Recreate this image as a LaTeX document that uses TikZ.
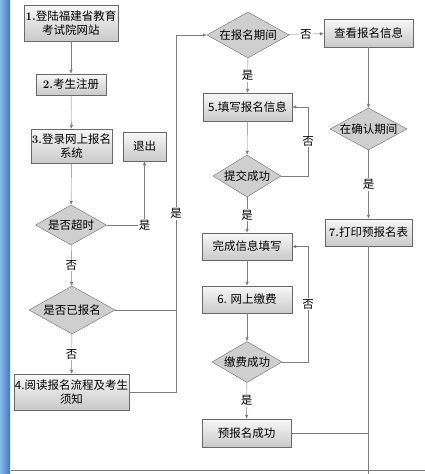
\documentclass[tikz,border=0pt]{standalone}
\usepackage{fontspec}
\newfontfamily\cjk{Noto Sans CJK SC}
\usetikzlibrary{shapes.geometric,arrows.meta}

\definecolor{linegray}{RGB}{125,125,125}
\definecolor{boxedge}{RGB}{105,105,105}
\definecolor{barblue}{RGB}{55,125,200}
\definecolor{barlight}{RGB}{140,185,230}

\tikzset{
	stepbox/.style={draw=boxedge, top color=gray!6, bottom color=gray!42, font=\cjk\fontsize{11.5}{14}\selectfont, align=center, inner sep=1pt},
	ask/.style={diamond, draw=boxedge, fill=gray!38, font=\cjk\fontsize{11.5}{14}\selectfont, inner sep=0pt, aspect=1.8},
	flow/.style={draw=linegray, ->},
	lbl/.style={fill=white, font=\cjk\fontsize{11.5}{14}\selectfont, inner sep=1pt}
}

\begin{document}
\begin{tikzpicture}[x=1pt, y=-1pt, >={Latex[length=4pt,width=3.5pt]}]
	\useasboundingbox (0,0) rectangle (425,474);
	  \shade[left color=barlight, right color=barblue] (0,0) rectangle (10,474);   % window edge
	  \draw[linegray] (11,470) -- (425,470);   % bottom edge

	  % left column
	  \node[stepbox, minimum width=94pt, minimum height=36pt] (site) at (71,23) {{\normalfont\bfseries 1.}登陆福建省教育\\考试院网站};
	  \node[stepbox, minimum width=70pt, minimum height=21pt] (signup) at (71,84.5) {{\normalfont\bfseries 2.}考生注册};
	  \node[stepbox, minimum width=79pt, minimum height=34pt] (login) at (71.5,146) {{\normalfont\bfseries 3.}登录网上报名\\系统};
	  \node[stepbox, minimum width=43pt, minimum height=29pt] (quit) at (144.5,146.5) {退出};
	  \node[ask, aspect=1.78, minimum width=71pt, minimum height=40pt] (timeout) at (71,225) {是否超时};
	  \node[ask, aspect=1.8, minimum width=86pt, minimum height=48pt] (applied) at (72,310) {是否已报名};
	  \node[stepbox, minimum width=111pt, minimum height=36pt] (rules) at (71.5,392) {4.阅读报名流程及考生\\须知};

	  % middle column
	  \node[ask, aspect=1.78, minimum width=82pt, minimum height=46pt] (period) at (248,35) {在报名期间};
	  \node[stepbox, minimum width=89pt, minimum height=28pt] (fill) at (247.5,107) {5.填写报名信息};
	  \node[ask, aspect=1.62, minimum width=68pt, minimum height=42pt] (submit) at (247,176) {提交成功};
	  \node[stepbox, minimum width=90pt, minimum height=27pt] (done) at (247,246.5) {完成信息填写};
	  \node[stepbox, minimum width=90pt, minimum height=27pt] (pay) at (247,299.5) {6. 网上缴费};
	  \node[ask, aspect=1.7, minimum width=70pt, minimum height=41pt] (paid) at (247,362) {缴费成功};
	  \node[stepbox, minimum width=89pt, minimum height=28pt] (ok) at (246.5,433) {预报名成功};

	  % right column
	  \node[stepbox, minimum width=89pt, minimum height=28pt] (check) at (368.5,33) {查看报名信息};
	  \node[ask, aspect=1.84, minimum width=70pt, minimum height=38pt] (confirm) at (368.5,129) {在确认期间};
	  \node[stepbox, minimum width=87pt, minimum height=27pt] (print) at (368.5,232.5) {{\normalfont\bfseries 7.}打印预报名表};

	  \coordinate (up) at (176,392);
	  \coordinate (exit) at (368.5,474);

	  % connectors
	  \draw[flow] (site) -- (signup);
	  \draw[flow] (signup) -- (login);
	  \draw[flow] (login) -- (timeout);
	  \draw[flow] (timeout.east) -| node[lbl, pos=0.5] {是} (quit.south);
	  \draw[flow] (timeout) -- node[lbl] {否} (applied);
	  \draw[flow] (applied) -- node[lbl] {否} (rules);
	  \draw[linegray] (applied.east) -- (applied.east -| up);
	  \draw[flow] (rules.east) -- (up) |- node[lbl, pos=0.25] {是} (period.west);

	  \draw[flow] (period) -- node[lbl] {否} (check);
	  \draw[flow] (period) -- node[lbl] {是} (fill);
	  \draw[flow] (fill) -- (submit);
	  \draw[flow] (submit.east) -- ++(27,0) |- node[lbl, pos=0.25] {否} (fill.east);
	  \draw[flow] (submit) -- node[lbl] {是} (done);
	  \draw[flow] (done) -- (pay);
	  \draw[flow] (pay) -- (paid);
	  \draw[flow] (paid.east) -- ++(26,0) |- node[lbl, pos=0.25] {否} (done.east);
	  \draw[flow] (paid) -- node[lbl] {是} (ok);

	  \draw[flow] (check) -- (confirm);
	  \draw[flow] (confirm) -- node[lbl] {是} (print);
	  \draw[linegray] (print) -- (exit);
	  \draw[linegray] (ok.east) -- (ok.east -| exit);
	\end{tikzpicture}
\end{document}
